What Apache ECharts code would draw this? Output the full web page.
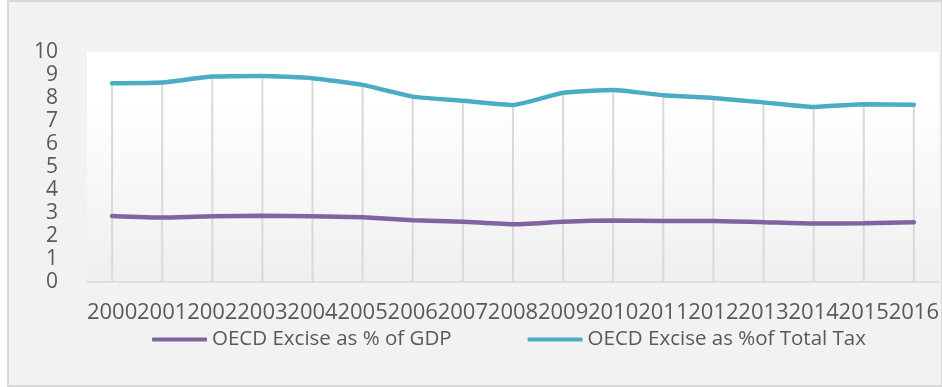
<!DOCTYPE html>
<html>
<head>
<meta charset="utf-8">
<script src="https://cdn.jsdelivr.net/npm/echarts@6/dist/echarts.min.js"></script>
<style>
  html, body { margin: 0; padding: 0; background: #ffffff; }
  #frame { position: absolute; left: 7px; top: 0px; width: 932px; height: 383px;
           border: 2px solid #d9d9d9; background: #f2f2f2; }
  #chart { position: absolute; left: 0; top: 0; width: 942px; height: 387px; }
</style>
</head>
<body>
<div id="frame"></div>
<div id="chart"></div>
<script>
const years = ['2000','2001','2002','2003','2004','2005','2006','2007','2008',
               '2009','2010','2011','2012','2013','2014','2015','2016'];
const exciseGdp = [2.87, 2.80, 2.86, 2.88, 2.86, 2.81, 2.68, 2.62, 2.51,
                   2.62, 2.67, 2.65, 2.65, 2.60, 2.54, 2.55, 2.60];
const exciseTotalTax = [8.64, 8.67, 8.93, 8.96, 8.86, 8.57, 8.06, 7.88, 7.70,
                        8.23, 8.35, 8.12, 8.00, 7.81, 7.61, 7.73, 7.71];
const yTicks = { min: 0, max: 10, step: 1 };
const seriesNames = ['OECD Excise as % of GDP', 'OECD Excise as %of Total Tax'];

// drop lines run from the highest series down to the axis
const dropLines = exciseTotalTax.map((v, i) => Math.max(v, exciseGdp[i]));

const FONT = '"Open Sans", "Liberation Sans", sans-serif';
const chart = echarts.init(document.getElementById('chart'), null, { renderer: 'canvas' });
chart.setOption({
  backgroundColor: 'transparent',
  animation: false,
  grid: {
    left: 87, right: 2, top: 52, bottom: 105,
    show: true, borderWidth: 0,
    backgroundColor: new echarts.graphic.LinearGradient(0, 0, 0, 1, [
      { offset: 0, color: '#ffffff' },
      { offset: 0.2, color: '#ffffff' },
      { offset: 1, color: '#efefef' }
    ])
  },
  legend: {
    data: seriesNames,
    left: 152, top: 329,
    padding: 0,
    icon: 'roundRect',
    itemWidth: 55, itemHeight: 4,
    itemGap: 76,
    textStyle: { fontFamily: FONT, fontSize: 20.5, color: '#595959' }
  },
  xAxis: {
    type: 'category',
    data: years,
    boundaryGap: true,
    axisLine: { show: true, lineStyle: { color: '#d9d9d9', width: 1.5 } },
    axisTick: { show: false },
    splitLine: { show: false },
    axisLabel: { interval: 0, margin: 20, fontFamily: FONT, fontSize: 22, color: '#595959' }
  },
  yAxis: {
    type: 'value',
    min: yTicks.min, max: yTicks.max, interval: yTicks.step,
    axisLine: { show: false },
    axisTick: { show: false },
    splitLine: { show: false },
    axisLabel: { margin: 29, fontFamily: FONT, fontSize: 21, color: '#595959' }
  },
  series: [
    {
      name: 'drop',
      type: 'bar',
      data: dropLines,
      barWidth: 2,
      itemStyle: { color: '#d9d9d9' },
      silent: true,
      z: 1
    },
    {
      name: seriesNames[0],
      type: 'line',
      data: exciseGdp,
      smooth: 0.15,
      symbol: 'none',
      lineStyle: { color: '#8064a2', width: 4.5, cap: 'round' },
      itemStyle: { color: '#8064a2' },
      z: 3
    },
    {
      name: seriesNames[1],
      type: 'line',
      data: exciseTotalTax,
      smooth: 0.15,
      symbol: 'none',
      lineStyle: { color: '#4bacc6', width: 4.5, cap: 'round' },
      itemStyle: { color: '#4bacc6' },
      z: 3
    }
  ]
});
</script>
</body>
</html>
